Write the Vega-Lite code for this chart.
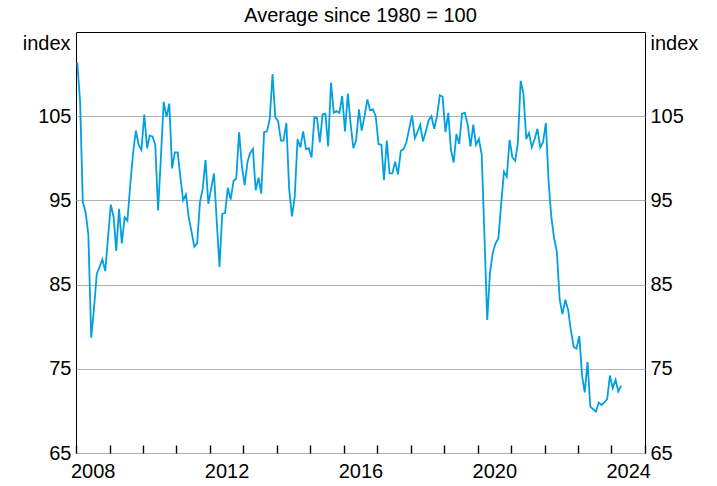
{
  "$schema": "https://vega.github.io/schema/vega-lite/v6.json",
  "width": 569,
  "height": 421,
  "autosize": {"type": "none"},
  "padding": {"left": 76, "top": 32, "right": 72, "bottom": 33},
  "background": "white",
  "config": {
    "font": "Liberation Sans",
    "view": {"stroke": "black", "strokeWidth": 1},
    "axis": {"labelFont": "Liberation Sans", "titleFont": "Liberation Sans", "labelColor": "black", "titleColor": "black", "labelFontSize": 20, "titleFontSize": 20, "titleFontWeight": "normal"}
  },
  "title": {"text": "Average since 1980 = 100", "fontSize": 20, "fontWeight": "normal", "color": "black", "anchor": "middle", "offset": 6, "font": "Liberation Sans"},
  "data": {"values": [
    {"date": "2008-01-15", "v": 111.4}, {"date": "2008-02-15", "v": 106.7}, {"date": "2008-03-15", "v": 94.8}, {"date": "2008-04-15", "v": 93.6}, {"date": "2008-05-15", "v": 90.9}, {"date": "2008-06-15", "v": 78.7}, {"date": "2008-07-15", "v": 82.1}, {"date": "2008-08-15", "v": 86.3}, {"date": "2008-09-15", "v": 87.1}, {"date": "2008-10-15", "v": 88.0}, {"date": "2008-11-15", "v": 86.6}, {"date": "2008-12-15", "v": 90.5},
    {"date": "2009-01-15", "v": 94.5}, {"date": "2009-02-15", "v": 93.0}, {"date": "2009-03-15", "v": 89.0}, {"date": "2009-04-15", "v": 94.0}, {"date": "2009-05-15", "v": 89.9}, {"date": "2009-06-15", "v": 93.0}, {"date": "2009-07-15", "v": 92.6}, {"date": "2009-08-15", "v": 96.8}, {"date": "2009-09-15", "v": 100.6}, {"date": "2009-10-15", "v": 103.3}, {"date": "2009-11-15", "v": 101.6}, {"date": "2009-12-15", "v": 101.0},
    {"date": "2010-01-15", "v": 105.2}, {"date": "2010-02-15", "v": 101.2}, {"date": "2010-03-15", "v": 102.7}, {"date": "2010-04-15", "v": 102.6}, {"date": "2010-05-15", "v": 101.6}, {"date": "2010-06-15", "v": 93.8}, {"date": "2010-07-15", "v": 100.0}, {"date": "2010-08-15", "v": 106.7}, {"date": "2010-09-15", "v": 104.9}, {"date": "2010-10-15", "v": 106.5}, {"date": "2010-11-15", "v": 98.8}, {"date": "2010-12-15", "v": 100.7},
    {"date": "2011-01-15", "v": 100.7}, {"date": "2011-02-15", "v": 97.6}, {"date": "2011-03-15", "v": 95.0}, {"date": "2011-04-15", "v": 95.7}, {"date": "2011-05-15", "v": 93.0}, {"date": "2011-06-15", "v": 91.3}, {"date": "2011-07-15", "v": 89.5}, {"date": "2011-08-15", "v": 89.9}, {"date": "2011-09-15", "v": 94.8}, {"date": "2011-10-15", "v": 96.4}, {"date": "2011-11-15", "v": 99.8}, {"date": "2011-12-15", "v": 94.6},
    {"date": "2012-01-15", "v": 96.4}, {"date": "2012-02-15", "v": 98.2}, {"date": "2012-03-15", "v": 92.7}, {"date": "2012-04-15", "v": 87.1}, {"date": "2012-05-15", "v": 93.4}, {"date": "2012-06-15", "v": 93.5}, {"date": "2012-07-15", "v": 96.5}, {"date": "2012-08-15", "v": 95.1}, {"date": "2012-09-15", "v": 97.3}, {"date": "2012-10-15", "v": 97.6}, {"date": "2012-11-15", "v": 103.1}, {"date": "2012-12-15", "v": 99.1},
    {"date": "2013-01-15", "v": 96.8}, {"date": "2013-02-15", "v": 99.6}, {"date": "2013-03-15", "v": 100.6}, {"date": "2013-04-15", "v": 101.1}, {"date": "2013-05-15", "v": 96.2}, {"date": "2013-06-15", "v": 97.7}, {"date": "2013-07-15", "v": 95.8}, {"date": "2013-08-15", "v": 103.1}, {"date": "2013-09-15", "v": 103.2}, {"date": "2013-10-15", "v": 104.6}, {"date": "2013-11-15", "v": 110.0}, {"date": "2013-12-15", "v": 104.9},
    {"date": "2014-01-15", "v": 104.4}, {"date": "2014-02-15", "v": 102.1}, {"date": "2014-03-15", "v": 102.1}, {"date": "2014-04-15", "v": 104.2}, {"date": "2014-05-15", "v": 96.4}, {"date": "2014-06-15", "v": 93.1}, {"date": "2014-07-15", "v": 95.4}, {"date": "2014-08-15", "v": 102.3}, {"date": "2014-09-15", "v": 101.3}, {"date": "2014-10-15", "v": 103.2}, {"date": "2014-11-15", "v": 101.1}, {"date": "2014-12-15", "v": 101.2},
    {"date": "2015-01-15", "v": 100.1}, {"date": "2015-02-15", "v": 104.9}, {"date": "2015-03-15", "v": 104.8}, {"date": "2015-04-15", "v": 101.9}, {"date": "2015-05-15", "v": 105.2}, {"date": "2015-06-15", "v": 105.3}, {"date": "2015-07-15", "v": 101.4}, {"date": "2015-08-15", "v": 109.0}, {"date": "2015-09-15", "v": 105.4}, {"date": "2015-10-15", "v": 105.6}, {"date": "2015-11-15", "v": 105.4}, {"date": "2015-12-15", "v": 107.4},
    {"date": "2016-01-15", "v": 103.2}, {"date": "2016-02-15", "v": 107.7}, {"date": "2016-03-15", "v": 104.2}, {"date": "2016-04-15", "v": 101.2}, {"date": "2016-05-15", "v": 102.1}, {"date": "2016-06-15", "v": 105.8}, {"date": "2016-07-15", "v": 103.3}, {"date": "2016-08-15", "v": 105.0}, {"date": "2016-09-15", "v": 107.0}, {"date": "2016-10-15", "v": 105.7}, {"date": "2016-11-15", "v": 105.8}, {"date": "2016-12-15", "v": 105.0},
    {"date": "2017-01-15", "v": 101.7}, {"date": "2017-02-15", "v": 101.6}, {"date": "2017-03-15", "v": 97.4}, {"date": "2017-04-15", "v": 102.1}, {"date": "2017-05-15", "v": 98.2}, {"date": "2017-06-15", "v": 98.2}, {"date": "2017-07-15", "v": 99.6}, {"date": "2017-08-15", "v": 98.1}, {"date": "2017-09-15", "v": 100.9}, {"date": "2017-10-15", "v": 101.1}, {"date": "2017-11-15", "v": 101.9}, {"date": "2017-12-15", "v": 103.5},
    {"date": "2018-01-15", "v": 105.1}, {"date": "2018-02-15", "v": 102.4}, {"date": "2018-03-15", "v": 103.1}, {"date": "2018-04-15", "v": 104.0}, {"date": "2018-05-15", "v": 102.0}, {"date": "2018-06-15", "v": 103.2}, {"date": "2018-07-15", "v": 104.5}, {"date": "2018-08-15", "v": 105.0}, {"date": "2018-09-15", "v": 103.5}, {"date": "2018-10-15", "v": 105.0}, {"date": "2018-11-15", "v": 107.5}, {"date": "2018-12-15", "v": 107.3},
    {"date": "2019-01-15", "v": 103.1}, {"date": "2019-02-15", "v": 105.4}, {"date": "2019-03-15", "v": 101.1}, {"date": "2019-04-15", "v": 99.5}, {"date": "2019-05-15", "v": 102.9}, {"date": "2019-06-15", "v": 101.7}, {"date": "2019-07-15", "v": 105.3}, {"date": "2019-08-15", "v": 105.4}, {"date": "2019-09-15", "v": 104.0}, {"date": "2019-10-15", "v": 101.4}, {"date": "2019-11-15", "v": 104.0}, {"date": "2019-12-15", "v": 101.6},
    {"date": "2020-01-15", "v": 102.3}, {"date": "2020-02-15", "v": 100.4}, {"date": "2020-03-15", "v": 91.0}, {"date": "2020-04-15", "v": 80.8}, {"date": "2020-05-15", "v": 86.4}, {"date": "2020-06-15", "v": 88.8}, {"date": "2020-07-15", "v": 89.9}, {"date": "2020-08-15", "v": 90.5}, {"date": "2020-09-15", "v": 94.7}, {"date": "2020-10-15", "v": 98.4}, {"date": "2020-11-15", "v": 97.8}, {"date": "2020-12-15", "v": 102.2},
    {"date": "2021-01-15", "v": 100.1}, {"date": "2021-02-15", "v": 99.7}, {"date": "2021-03-15", "v": 101.8}, {"date": "2021-04-15", "v": 109.2}, {"date": "2021-05-15", "v": 107.7}, {"date": "2021-06-15", "v": 102.3}, {"date": "2021-07-15", "v": 103.0}, {"date": "2021-08-15", "v": 101.3}, {"date": "2021-09-15", "v": 102.3}, {"date": "2021-10-15", "v": 103.5}, {"date": "2021-11-15", "v": 101.3}, {"date": "2021-12-15", "v": 101.9},
    {"date": "2022-01-15", "v": 104.2}, {"date": "2022-02-15", "v": 97.0}, {"date": "2022-03-15", "v": 93.1}, {"date": "2022-04-15", "v": 90.5}, {"date": "2022-05-15", "v": 88.9}, {"date": "2022-06-15", "v": 83.2}, {"date": "2022-07-15", "v": 81.5}, {"date": "2022-08-15", "v": 83.2}, {"date": "2022-09-15", "v": 82.0}, {"date": "2022-10-15", "v": 79.6}, {"date": "2022-11-15", "v": 77.6}, {"date": "2022-12-15", "v": 77.4},
    {"date": "2023-01-15", "v": 78.9}, {"date": "2023-02-15", "v": 74.1}, {"date": "2023-03-15", "v": 72.2}, {"date": "2023-04-15", "v": 75.8}, {"date": "2023-05-15", "v": 70.5}, {"date": "2023-06-15", "v": 70.2}, {"date": "2023-07-15", "v": 69.9}, {"date": "2023-08-15", "v": 71.0}, {"date": "2023-09-15", "v": 70.7}, {"date": "2023-10-15", "v": 71.0}, {"date": "2023-11-15", "v": 71.4}, {"date": "2023-12-15", "v": 74.2},
    {"date": "2024-01-15", "v": 72.7}, {"date": "2024-02-15", "v": 73.7}, {"date": "2024-03-15", "v": 72.3}, {"date": "2024-04-15", "v": 73.0}
  ]},
  "layer": [
    {
      "mark": {"type": "line", "color": "#00a0e2", "strokeWidth": 1.8},
      "encoding": {
        "x": {
          "field": "date", "type": "temporal",
          "scale": {"type": "utc", "domain": [{"year": 2008, "month": 1, "date": 1, "utc": true}, {"year": 2025, "month": 1, "date": 1, "utc": true}]},
          "axis": {
            "title": null, "grid": false, "domain": false,
            "tickCount": {"interval": "year", "step": 1},
            "labelExpr": "utcyear(datum.value) % 4 == 0 && utcyear(datum.value) < 2025 ? utcFormat(datum.value, '%Y') : ''",
            "labelOffset": 16.7,
            "labelOverlap": false, "labelBound": false, "labelFlush": false,
            "tickSize": -8, "tickColor": "black", "tickWidth": 1.4,
            "labelPadding": 16, "labelBaseline": "top"
          }
        },
        "y": {
          "field": "v", "type": "quantitative",
          "scale": {"domain": [65, 115], "nice": false, "zero": false},
          "axis": {
            "values": [65, 75, 85, 95, 105], "grid": true, "gridColor": "#b0b0b0", "gridWidth": 1,
            "ticks": false, "domain": false, "labelPadding": 5, "labelBaseline": "middle",
            "title": "index", "titleAngle": 0, "titleX": -6, "titleY": 17, "titleAlign": "right", "titleBaseline": "alphabetic"
          }
        }
      }
    },
    {
      "mark": {"type": "line", "strokeOpacity": 0},
      "encoding": {
        "x": {"field": "date", "type": "temporal"},
        "y": {
          "field": "v", "type": "quantitative",
          "axis": {
            "orient": "right", "values": [65, 75, 85, 95, 105], "grid": false,
            "ticks": false, "domain": false, "labelPadding": 5, "labelBaseline": "middle",
            "title": "index", "titleAngle": 0, "titleX": 5, "titleY": 17, "titleAlign": "left", "titleBaseline": "alphabetic"
          }
        }
      }
    }
  ],
  "resolve": {"scale": {"y": "shared"}, "axis": {"y": "independent"}}
}
